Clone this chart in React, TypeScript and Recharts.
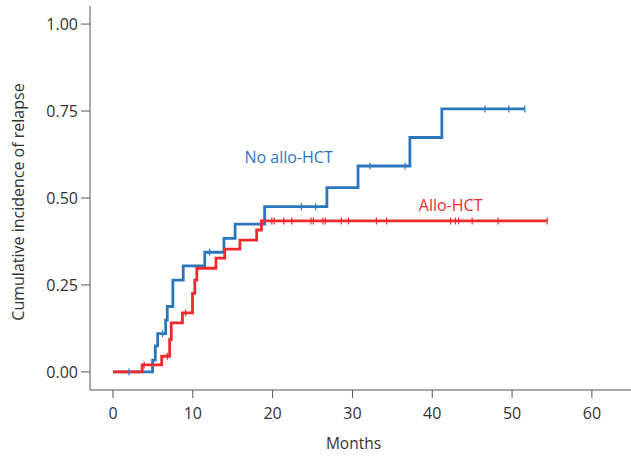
import React from "react";
import {
  LineChart,
  Line,
  XAxis,
  YAxis,
  ReferenceDot,
} from "recharts";

// step times (months) and cumulative incidence after each step
const noAlloTimes = [0, 4.96, 5.3, 5.6, 6.6, 6.8, 7.5, 8.8, 11.5, 13.9, 15.3, 19.0, 26.8, 30.7, 37.2, 41.2, 51.6];
const noAlloValues = [0, 0.034, 0.075, 0.11, 0.149, 0.188, 0.264, 0.305, 0.344, 0.384, 0.425, 0.475, 0.53, 0.592, 0.674, 0.756, 0.756];
const noAlloCensored = [2.0, 6.2, 12.1, 23.6, 25.4, 32.2, 36.6, 46.6, 49.6, 51.6];

const alloTimes = [0, 3.66, 6.1, 7.1, 7.3, 8.7, 9.96, 10.25, 10.5, 12.9, 14.0, 15.9, 18.0, 18.6, 54.4];
const alloValues = [0, 0.02, 0.045, 0.093, 0.141, 0.17, 0.226, 0.264, 0.298, 0.327, 0.353, 0.379, 0.408, 0.434, 0.434];
const alloCensored = [3.9, 6.8, 9.1, 19.9, 20.2, 21.4, 22.4, 24.8, 25.1, 26.3, 26.6, 28.6, 29.5, 33.0, 34.3, 42.3, 42.9, 43.3, 45.0, 48.25, 54.4];

const xTicks = [0, 10, 20, 30, 40, 50, 60];
const yTicks = [0, 0.25, 0.5, 0.75, 1];

const BLUE = "#2b77bd";
const RED = "#ef2a2f";
const FONT = "'Open Sans', sans-serif";

function buildSeries(times: number[], values: number[], censored: number[]) {
  const rows: any[] = times.map((t, i) => ({ t, v: values[i], censored: false }));
  censored.forEach((c) => {
    const same = rows.find((r) => r.t === c);
    if (same) {
      same.censored = true;
      return;
    }
    // value of the step function at time c
    let v = 0;
    times.forEach((t, i) => {
      if (t <= c) v = values[i];
    });
    rows.push({ t: c, v, censored: true });
  });
  return rows.sort((a, b) => a.t - b.t);
}

const noAlloData = buildSeries(noAlloTimes, noAlloValues, noAlloCensored);
const alloData = buildSeries(alloTimes, alloValues, alloCensored);

const censorDot = (color: string) => (props: any) => {
  const { cx, cy, payload, index } = props;
  if (!payload?.censored) return <g key={index} />;
  return <line key={index} x1={cx} x2={cx} y1={cy - 3.5} y2={cy + 3.5} stroke={color} strokeWidth={1.2} />;
};

const textLabel = (text: string, color: string) => (props: any) => (
  <text x={props.cx} y={props.cy} textAnchor="middle" dominantBaseline="central" fill={color} fontSize={16} fontFamily={FONT}>
    {text}
  </text>
);

export default function App() {
  return (
    <div style={{ position: "absolute", left: 0, top: 0, background: "#fff" }}>
      <LineChart width={631} height={456} margin={{ top: 6, right: 0, bottom: 0, left: 0 }}>
        <XAxis
          type="number"
          dataKey="t"
          domain={[-2.88, 64.9]}
          ticks={xTicks}
          allowDataOverflow
          height={66}
          tickSize={8}
          tickMargin={10}
          stroke="#555"
          tick={{ fill: "#333", fontSize: 16, fontFamily: FONT }}
          label={{ value: "Months", position: "center", dx: -7, dy: 20, fill: "#333", fontSize: 15.5, fontFamily: FONT }}
        />
        <YAxis
          type="number"
          domain={[-0.052, 1.052]}
          ticks={yTicks}
          allowDataOverflow
          width={90}
          tickSize={9}
          tickMargin={3}
          stroke="#555"
          tickFormatter={(v: number) => v.toFixed(2)}
          tick={{ fill: "#333", fontSize: 16, fontFamily: FONT }}
          label={{
            value: "Cumulative incidence of relapse",
            angle: -90,
            position: "center",
            dx: -27,
            dy: 4,
            fill: "#333",
            fontSize: 16,
            fontFamily: FONT,
          }}
        />
        <Line
          data={noAlloData}
          dataKey="v"
          type="stepAfter"
          stroke={BLUE}
          strokeWidth={2.8}
          dot={censorDot(BLUE)}
          activeDot={false}
          isAnimationActive={false}
        />
        <Line
          data={alloData}
          dataKey="v"
          type="stepAfter"
          stroke={RED}
          strokeWidth={2.8}
          dot={censorDot(RED)}
          activeDot={false}
          isAnimationActive={false}
        />
        <ReferenceDot x={22} y={0.618} ifOverflow="visible" shape={textLabel("No allo-HCT", BLUE)} />
        <ReferenceDot x={42.3} y={0.48} ifOverflow="visible" shape={textLabel("Allo-HCT", RED)} />
      </LineChart>
    </div>
  );
}
